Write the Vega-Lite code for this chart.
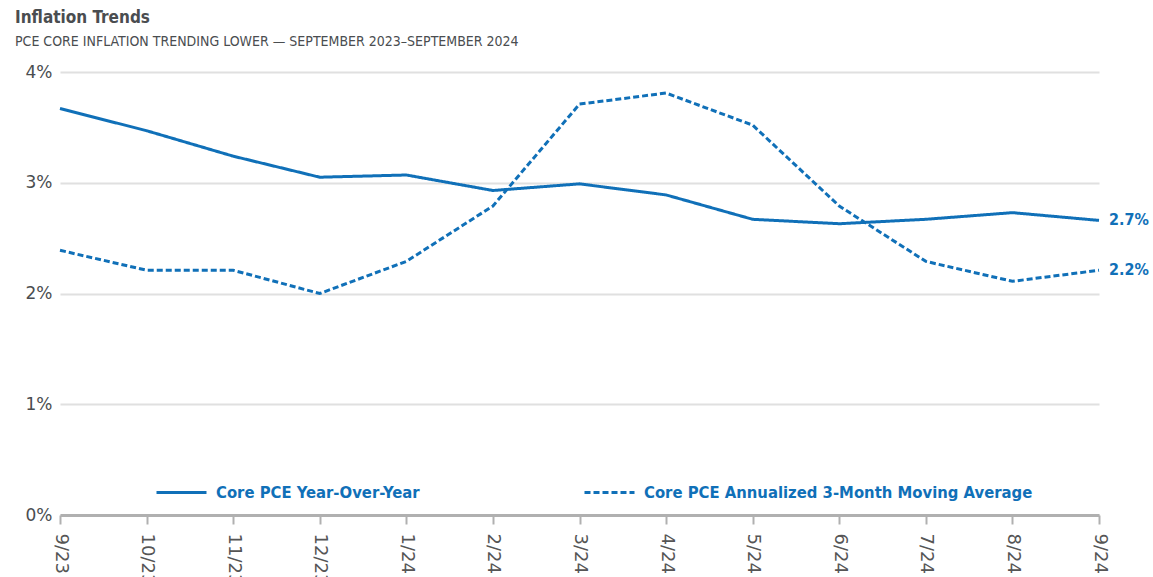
{
  "$schema": "https://vega.github.io/schema/vega-lite/v6.json",
  "width": 1039,
  "height": 443,
  "autosize": {"type": "none"},
  "padding": {"left": 60, "top": 72, "right": 54, "bottom": 62},
  "background": "white",
  "config": {
    "view": {"stroke": null},
    "font": "DejaVu Sans Condensed, sans-serif"
  },
  "title": {
    "text": "Inflation Trends",
    "subtitle": "PCE CORE INFLATION TRENDING LOWER — SEPTEMBER 2023–SEPTEMBER 2024",
    "anchor": "start",
    "frame": "group",
    "dx": -45,
    "offset": 13,
    "font": "DejaVu Sans Condensed, sans-serif",
    "fontSize": 17,
    "fontWeight": "bold",
    "color": "#4a4d50",
    "subtitleFont": "DejaVu Sans Condensed, sans-serif",
    "subtitleFontSize": 14,
    "subtitleColor": "#4a4d50",
    "subtitlePadding": 8
  },
  "data": {
    "values": [
      {"month": "9/23", "series": "Core PCE Year-Over-Year", "value": 3.67},
      {"month": "10/23", "series": "Core PCE Year-Over-Year", "value": 3.47},
      {"month": "11/23", "series": "Core PCE Year-Over-Year", "value": 3.24},
      {"month": "12/23", "series": "Core PCE Year-Over-Year", "value": 3.05},
      {"month": "1/24", "series": "Core PCE Year-Over-Year", "value": 3.07},
      {"month": "2/24", "series": "Core PCE Year-Over-Year", "value": 2.93},
      {"month": "3/24", "series": "Core PCE Year-Over-Year", "value": 2.99},
      {"month": "4/24", "series": "Core PCE Year-Over-Year", "value": 2.89},
      {"month": "5/24", "series": "Core PCE Year-Over-Year", "value": 2.67},
      {"month": "6/24", "series": "Core PCE Year-Over-Year", "value": 2.63},
      {"month": "7/24", "series": "Core PCE Year-Over-Year", "value": 2.67},
      {"month": "8/24", "series": "Core PCE Year-Over-Year", "value": 2.73},
      {"month": "9/24", "series": "Core PCE Year-Over-Year", "value": 2.66},
      {"month": "9/23", "series": "Core PCE Annualized 3-Month Moving Average", "value": 2.39},
      {"month": "10/23", "series": "Core PCE Annualized 3-Month Moving Average", "value": 2.21},
      {"month": "11/23", "series": "Core PCE Annualized 3-Month Moving Average", "value": 2.21},
      {"month": "12/23", "series": "Core PCE Annualized 3-Month Moving Average", "value": 2.0},
      {"month": "1/24", "series": "Core PCE Annualized 3-Month Moving Average", "value": 2.29},
      {"month": "2/24", "series": "Core PCE Annualized 3-Month Moving Average", "value": 2.79},
      {"month": "3/24", "series": "Core PCE Annualized 3-Month Moving Average", "value": 3.71},
      {"month": "4/24", "series": "Core PCE Annualized 3-Month Moving Average", "value": 3.81},
      {"month": "5/24", "series": "Core PCE Annualized 3-Month Moving Average", "value": 3.52},
      {"month": "6/24", "series": "Core PCE Annualized 3-Month Moving Average", "value": 2.79},
      {"month": "7/24", "series": "Core PCE Annualized 3-Month Moving Average", "value": 2.29},
      {"month": "8/24", "series": "Core PCE Annualized 3-Month Moving Average", "value": 2.11},
      {"month": "9/24", "series": "Core PCE Annualized 3-Month Moving Average", "value": 2.21}
    ]
  },
  "encoding": {
    "x": {
      "field": "month",
      "type": "ordinal",
      "sort": null,
      "scale": {"type": "point", "padding": 0},
      "axis": {
        "title": null,
        "labelAngle": 90,
        "labelAlign": "left",
        "labelBaseline": "middle",
        "labelFontSize": 18,
        "labelFont": "DejaVu Sans, sans-serif",
        "labelColor": "#555555",
        "labelPadding": 9,
        "domainColor": "#b0b0b0",
        "domainWidth": 3,
        "tickColor": "#b0b0b0",
        "tickWidth": 2,
        "tickSize": 9,
        "grid": false
      }
    },
    "y": {
      "field": "value",
      "type": "quantitative",
      "scale": {"domain": [0, 4]},
      "axis": {
        "title": null,
        "values": [0, 1, 2, 3, 4],
        "labelExpr": "datum.value + '%'",
        "labelFontSize": 17,
        "labelFont": "DejaVu Sans, sans-serif",
        "labelColor": "#4a4d50",
        "labelPadding": 8,
        "domain": false,
        "ticks": false,
        "gridColor": "#e0e0e0",
        "gridWidth": 2
      }
    }
  },
  "layer": [
    {
      "mark": {"type": "line", "color": "#1070b8", "strokeWidth": 3},
      "encoding": {
        "strokeDash": {
          "field": "series",
          "type": "nominal",
          "sort": ["Core PCE Year-Over-Year", "Core PCE Annualized 3-Month Moving Average"],
          "scale": {
            "domain": ["Core PCE Year-Over-Year", "Core PCE Annualized 3-Month Moving Average"],
            "range": [[1, 0], [6, 3]]
          },
          "legend": {
            "title": null,
            "orient": "none",
            "direction": "horizontal",
            "legendX": 95,
            "legendY": 394,
            "symbolType": "stroke",
            "symbolSize": 2500,
            "symbolStrokeColor": "#1070b8",
            "symbolStrokeWidth": 3,
            "labelFont": "DejaVu Sans Condensed, sans-serif",
            "labelFontSize": 16.5,
            "labelFontWeight": "bold",
            "labelColor": "#1070b8",
            "labelOffset": 8,
            "labelLimit": 600,
            "columnPadding": 158
          }
        }
      }
    },
    {
      "transform": [
        {"filter": "datum.month == '9/24'"},
        {"calculate": "format(datum.value, '.1f') + '%'", "as": "label"}
      ],
      "mark": {
        "type": "text",
        "align": "left",
        "baseline": "middle",
        "dx": 10,
        "fontSize": 16,
        "fontWeight": "bold",
        "color": "#1070b8",
        "font": "DejaVu Sans Condensed, sans-serif"
      },
      "encoding": {"text": {"field": "label"}}
    }
  ]
}
